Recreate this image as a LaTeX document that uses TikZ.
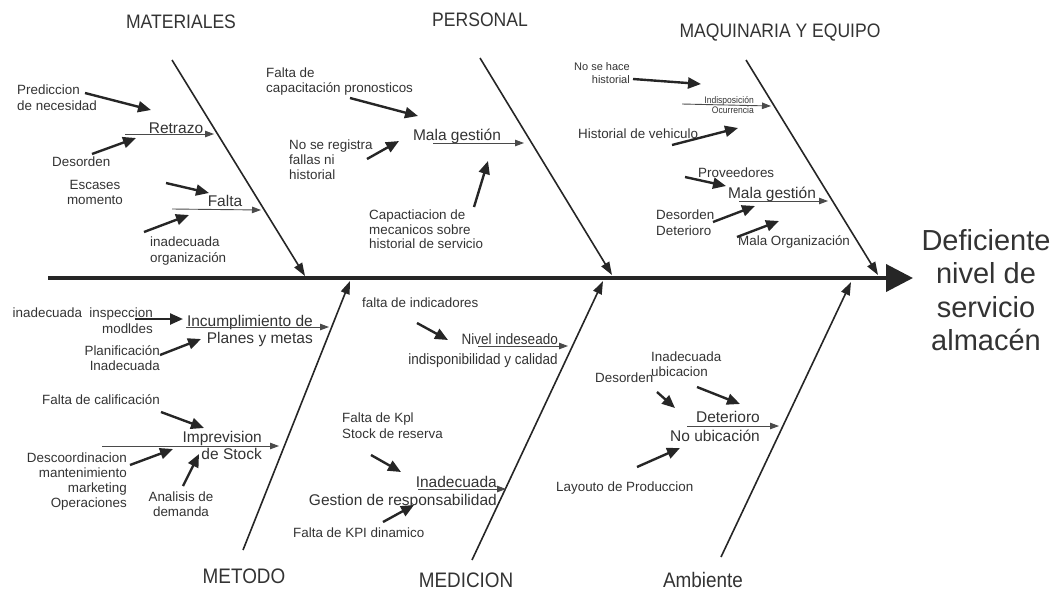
\documentclass[tikz,border=0pt]{standalone}
\usepackage{fontspec}
\setmainfont{Liberation Sans}
\newfontfamily\narrowsans[FakeStretch=0.9]{Liberation Sans}
\usetikzlibrary{arrows.meta}

\definecolor{ink}{HTML}{262626}
\definecolor{txt}{HTML}{333333}
\definecolor{fineline}{HTML}{4a4a4a}

\tikzset{
  spine/.style={draw=ink, line width=4pt, -{Triangle[length=27pt,width=27pt]}},
  bone/.style={draw=ink, line width=1.6pt, -{Triangle[length=13pt,width=9pt]}},
  causearr/.style={draw=ink, line width=2.4pt, -{Triangle[length=13pt,width=11pt]}},
  subarr/.style={draw=fineline, line width=0.9pt, -{Triangle[length=9pt,width=6.5pt]}},
  lbl/.style={text=txt, inner sep=0pt, font=\fontsize{13.4}{15.5}\selectfont},
  small/.style={text=txt, inner sep=0pt, font=\fontsize{11}{13}\selectfont},
  tiny/.style={text=txt, inner sep=0pt, font=\narrowsans\fontsize{9.5}{10}\selectfont},
  sublbl/.style={text=txt, inner sep=0pt, font=\fontsize{15.5}{17}\selectfont},
  narrowlbl/.style={text=txt, inner sep=0pt, font=\narrowsans\fontsize{15}{20}\selectfont},
  head/.style={text=txt, inner sep=0pt, font=\narrowsans\fontsize{19.5}{21}\selectfont},
  foot/.style={text=txt, inner sep=0pt, font=\narrowsans\fontsize{21}{23}\selectfont},
  effect/.style={text=txt, inner sep=0pt, align=center, font=\fontsize{29}{33.5}\selectfont},
}

% an arrow between two named coordinates
\newcommand\fbarrow[4]{%
  \coordinate (#2-s) at #3;
  \coordinate (#2-e) at #4;
  \draw[#1] (#2-s) -- (#2-e);}

\begin{document}
\begin{tikzpicture}[x=1pt,y=-1pt]
\useasboundingbox (0,0) rectangle (1059,590);

% ---------- spine and effect ----------
\coordinate (tail) at (48,278);
\node[effect, anchor=north] (effect) at (986,229) {Deficiente\\nivel de\\servicio\\almacén};
\coordinate (head) at (913,278);
\draw[spine] (tail) -- (head);

% ---------- main bones ----------
\fbarrow{bone}{mat}{(172,60)}{(305,276)}
\fbarrow{bone}{per}{(480,58)}{(612,275)}
\fbarrow{bone}{maq}{(746,60)}{(878,275)}
\fbarrow{bone}{met}{(243,550)}{(350,281)}
\fbarrow{bone}{med}{(472,560)}{(603,281)}
\fbarrow{bone}{amb}{(721,557)}{(851,282)}

% ---------- category labels ----------
\node[head] (hmat) at (181,22) {MATERIALES};
\node[head] (hper) at (480,20) {PERSONAL};
\node[head] (hmaq) at (780,33) {MAQUINARIA Y EQUIPO};
\node[foot] (hmet) at (244,576) {METODO};
\node[foot] (hmed) at (466,580) {MEDICION};
\node[foot] (hamb) at (703,580) {Ambiente};

% ---------- MATERIALES ----------
\node[lbl, anchor=north west, align=left] (m1) at (17,85) {Prediccion\\de necesidad};
\fbarrow{causearr}{m1a}{(85,93)}{(151,110)}
\node[sublbl] (retrazo) at (176,128) {Retrazo};
\fbarrow{subarr}{retl}{(125,134)}{(214,134)}
\node[lbl, anchor=west] (m2) at (52,162) {Desorden};
\fbarrow{causearr}{m2a}{(92,154)}{(136,138)}
\node[lbl, anchor=north, align=center] (m3) at (95,180) {Escases\\momento};
\fbarrow{causearr}{m3a}{(166,183)}{(209,193)}
\node[sublbl] (falta) at (225,201) {Falta};
\fbarrow{subarr}{fall}{(172,209)}{(261,210)}
\node[lbl, anchor=north west, align=left] (m4) at (150,237) {inadecuada\\organización};
\fbarrow{causearr}{m4a}{(144,232)}{(189,215)}

% ---------- PERSONAL ----------
\node[lbl, anchor=north west, align=left, font=\fontsize{13.4}{14.5}\selectfont] (p1) at (266,68) {Falta de\\capacitación pronosticos};
\fbarrow{causearr}{p1a}{(350,98)}{(418,116)}
\node[sublbl] (malag1) at (457,136) {Mala gestión};
\fbarrow{subarr}{mg1l}{(433,143)}{(524,143)}
\node[lbl, anchor=north west, align=left, font=\fontsize{13.4}{15}\selectfont] (p2) at (289,140) {No se registra\\fallas ni\\historial};
\fbarrow{causearr}{p2a}{(367,159)}{(399,141)}
\node[lbl, anchor=north west, align=left, font=\fontsize{13.4}{14.5}\selectfont] (p3) at (369,210) {Capactiacion de\\mecanicos sobre\\historial de servicio};
\fbarrow{causearr}{p3a}{(474,207)}{(488,161)}

% ---------- MAQUINARIA Y EQUIPO ----------
\node[small, anchor=north east, align=right] (q1) at (630,62) {No se hace\\historial};
\fbarrow{causearr}{q1a}{(633,79)}{(701,84)}
\node[tiny, anchor=north east, align=right] (q2) at (754,96) {Indisposición\\Ocurrencia};
\fbarrow{subarr}{q2l}{(682,104)}{(771,106)}
\node[lbl, anchor=west] (q3) at (578,134) {Historial de vehiculo};
\fbarrow{causearr}{q3a}{(672,145)}{(738,128)}
\node[lbl, anchor=west] (q4) at (698,173) {Proveedores};
\fbarrow{causearr}{q4a}{(685,177)}{(726,186)}
\node[sublbl] (malag2) at (772,194) {Mala gestión};
\fbarrow{subarr}{mg2l}{(739,201)}{(828,201)}
\node[lbl, anchor=north west, align=left, font=\fontsize{13.4}{16}\selectfont] (q5) at (656,210) {Desorden\\Deterioro};
\fbarrow{causearr}{q5a}{(713,222)}{(755,206)}
\node[lbl, anchor=west] (q6) at (738,242) {Mala Organización};
\fbarrow{causearr}{q6a}{(737,237)}{(779,221)}

% ---------- METODO ----------
\node[lbl, anchor=north east, align=right] (t1) at (153,308) {inadecuada\ \ inspeccion\\modldes};
\fbarrow{causearr}{t1a}{(135,319)}{(183,319)}
\node[sublbl, anchor=north east, align=right] (incum) at (313,315) {Incumplimiento de\\Planes y metas};
\fbarrow{subarr}{incl}{(186,327)}{(329,327)}
\node[lbl, anchor=north east, align=right, font=\fontsize{13.4}{15}\selectfont] (t2) at (160,345) {Planificación\\Inadecuada};
\fbarrow{causearr}{t2a}{(160,355)}{(201,339)}
\node[lbl, anchor=west] (t3) at (42,400) {Falta de calificación};
\fbarrow{causearr}{t3a}{(161,412)}{(204,428)}
\node[sublbl, anchor=north east, align=right] (imprev) at (262,431) {Imprevision\\de Stock};
\fbarrow{subarr}{impl}{(102,446)}{(279,446)}
\node[lbl, anchor=north east, align=right, font=\fontsize{13.4}{15}\selectfont] (t4) at (127,453) {Descoordinacion\\mantenimiento\\marketing\\Operaciones};
\fbarrow{causearr}{t4a}{(130,465)}{(173,449)}
\node[lbl, anchor=north, align=center, font=\fontsize{13.4}{15}\selectfont] (t5) at (181,492) {Analisis de\\demanda};
\fbarrow{causearr}{t5a}{(183,486)}{(199,454)}

% ---------- MEDICION ----------
\node[lbl, anchor=west] (d1) at (362,303) {falta de indicadores};
\fbarrow{causearr}{d1a}{(417,323)}{(448,340)}
\node[narrowlbl, anchor=north east, align=right] (nivel) at (558,333) {Nivel indeseado\\indisponibilidad y calidad};
\fbarrow{subarr}{nivl}{(478,346)}{(568,346)}
\node[lbl, anchor=north west, align=left, font=\fontsize{13.4}{16}\selectfont] (d2) at (342,413) {Falta de Kpl\\Stock de reserva};
\fbarrow{causearr}{d2a}{(371,455)}{(401,472)}
\node[sublbl, anchor=north east, align=right, font=\fontsize{15.5}{18}\selectfont] (inad) at (497,476) {Inadecuada\\Gestion de responsabilidad};
\fbarrow{subarr}{inal}{(418,489)}{(506,489)}
\fbarrow{causearr}{d3a}{(383,522)}{(414,505)}
\node[lbl, anchor=west] (d3) at (293,533) {Falta de KPI dinamico};

% ---------- Ambiente ----------
\node[lbl, anchor=north west, align=left, font=\fontsize{13.4}{15}\selectfont] (a1) at (651,352) {Inadecuada\\ubicacion};
\node[lbl, anchor=west] (a2) at (595,378) {Desorden};
\fbarrow{causearr}{a2a}{(657,392)}{(675,408)}
\fbarrow{causearr}{a1a}{(697,387)}{(740,404)}
\node[sublbl, anchor=north east, align=right, font=\fontsize{15.5}{19}\selectfont] (deter) at (760,411) {Deterioro\\No ubicación};
\fbarrow{subarr}{detl}{(687,426)}{(779,426)}
\fbarrow{causearr}{a3a}{(637,467)}{(680,448)}
\node[lbl, anchor=west] (a3) at (556,488) {Layouto de Produccion};

\end{tikzpicture}
\end{document}
